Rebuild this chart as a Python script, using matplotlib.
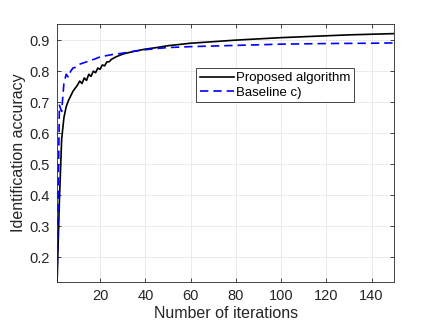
import numpy as np
import matplotlib
matplotlib.use('Agg')
import matplotlib.pyplot as plt

# Proposed algorithm (black solid)
it_prop = [1, 2, 3, 4, 5, 6, 7, 8, 9, 10, 11, 12, 13, 14, 15, 16, 17, 18, 19, 20,
           21, 22, 23, 24, 25, 26, 27, 28, 29, 30, 35, 40, 45, 50, 60, 70, 80, 90,
           100, 110, 120, 130, 140, 150]
acc_prop = [0.12, 0.38, 0.58, 0.65, 0.685, 0.705, 0.72, 0.735, 0.745, 0.755, 0.768, 0.76,
            0.778, 0.77, 0.79, 0.783, 0.80, 0.795, 0.81, 0.806, 0.82, 0.817, 0.83,
            0.83, 0.838, 0.842, 0.846, 0.849, 0.852, 0.855, 0.864, 0.871, 0.876, 0.882,
            0.89, 0.895, 0.90, 0.904, 0.908, 0.911, 0.914, 0.917, 0.919, 0.921]

# Baseline c) (blue dashed)
it_base = [1, 2, 3, 4, 5, 6, 7, 8, 9, 10, 12, 14, 16, 18, 20, 25, 30, 35, 40, 45,
           50, 60, 70, 80, 90, 100, 120, 140, 150]
acc_base = [0.13, 0.69, 0.67, 0.76, 0.79, 0.78, 0.80, 0.81, 0.812, 0.82, 0.825, 0.83,
            0.835, 0.84, 0.846, 0.853, 0.858, 0.864, 0.869, 0.873, 0.876, 0.879, 0.881,
            0.883, 0.885, 0.887, 0.889, 0.89, 0.891]

xticks = [20, 40, 60, 80, 100, 120, 140]
yticks = [0.2, 0.3, 0.4, 0.5, 0.6, 0.7, 0.8, 0.9]

plt.rcParams['font.family'] = ['Liberation Sans', 'DejaVu Sans']
ink = (0.15, 0.15, 0.15)

fig = plt.figure(figsize=(4.36, 3.27), dpi=100)
ax = fig.add_axes([0.131, 0.1376, 0.773, 0.789])

ax.plot(it_prop, acc_prop, color='black', lw=1.2, label='Proposed algorithm')
ax.plot(it_base, acc_base, color='blue', lw=1.2, ls=(0, (5, 3)), label='Baseline c)')

ax.set_xlim(1, 150)
ax.set_ylim(0.12, 0.952)
ax.set_xticks(xticks)
ax.set_yticks(yticks)
ax.set_yticklabels(['%.1f' % v for v in yticks])
ax.grid(True, color=(0.91, 0.91, 0.91), lw=0.6)
ax.set_axisbelow(True)
ax.tick_params(direction='in', top=True, right=True, length=3, width=0.6,
               colors=ink, labelsize=10.5, pad=5)
for s in ax.spines.values():
    s.set_color(ink)
    s.set_linewidth(0.6)

ax.set_xlabel('Number of iterations', fontsize=11.5, color=ink, labelpad=2)
ax.set_ylabel('Identification accuracy', fontsize=11.5, color=ink, labelpad=3)

leg = ax.legend(loc='upper left', bbox_to_anchor=(0.412, 0.829), borderaxespad=0,
                fontsize=9.5, fancybox=False, framealpha=1, edgecolor=ink,
                handlelength=2.6, handletextpad=0.1, borderpad=0.3, labelspacing=0.15)
leg.get_frame().set_linewidth(0.6)

fig.savefig('out.png', dpi=100)
